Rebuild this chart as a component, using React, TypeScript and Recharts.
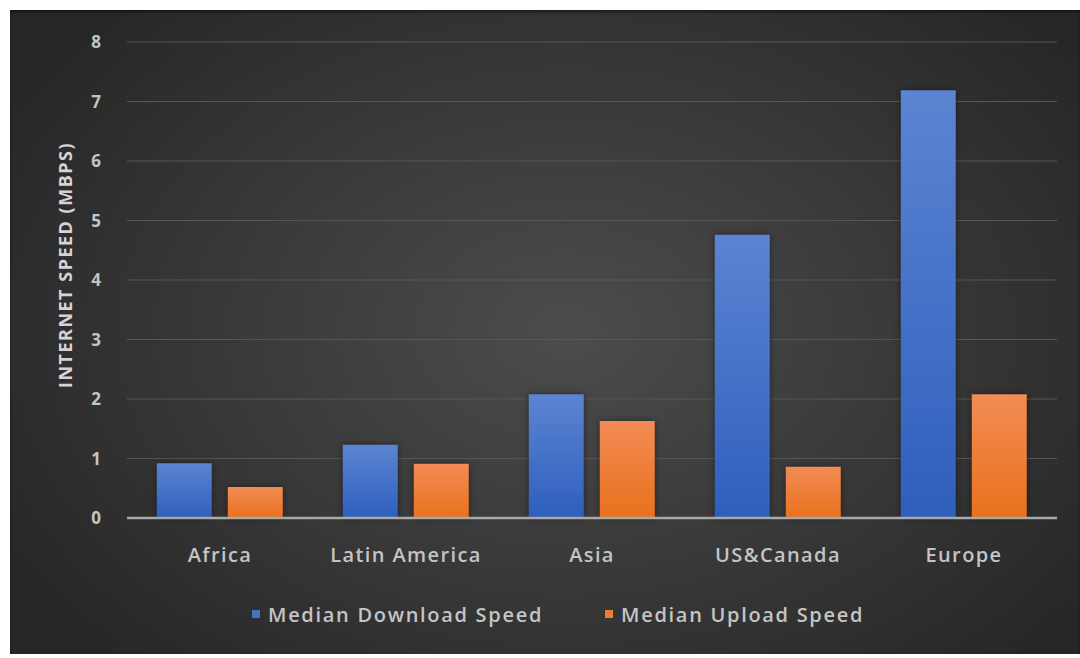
import React from 'react';
import { BarChart, Bar, XAxis, YAxis, CartesianGrid, Legend } from 'recharts';

const regions = ['Africa', 'Latin America', 'Asia', 'US&Canada', 'Europe'];
const downloadSpeed = [0.92, 1.23, 2.08, 4.76, 7.19];
const uploadSpeed = [0.52, 0.91, 1.63, 0.86, 2.08];
const yTicks = [0, 1, 2, 3, 4, 5, 6, 7, 8];

const seriesNames = ['Median Download Speed', 'Median Upload Speed'];
const seriesColors = ['#4472c4', '#ed7d31'];

const data = regions.map((region, i) => ({
  region,
  download: downloadSpeed[i],
  upload: uploadSpeed[i],
}));

const FONT = '"Open Sans", "DejaVu Sans", sans-serif';
const TEXT = '#c4c4c4';

const LegendContent = () => (
  <div
    style={{
      height: 36,
      display: 'flex',
      alignItems: 'center',
      justifyContent: 'flex-start',
      paddingLeft: 252,
      fontFamily: FONT,
      fontSize: 20,
      fontWeight: 600,
      letterSpacing: 1.7,
      color: TEXT,
    }}
  >
    {seriesNames.map((name, i) => (
      <div key={name} style={{ display: 'flex', alignItems: 'center', marginRight: i === 0 ? 62 : 0 }}>
        <span style={{ width: 8, height: 8, background: seriesColors[i], marginRight: 8, display: 'inline-block' }} />
        <span>{name}</span>
      </div>
    ))}
  </div>
);

const AxisTitle = ({ viewBox }: any) => {
  const cx = viewBox.x - 2;
  const cy = viewBox.y + viewBox.height / 2 - 15;
  return (
    <text
      x={cx}
      y={cy}
      transform={`rotate(-90 ${cx} ${cy})`}
      textAnchor="middle"
      dominantBaseline="central"
      fill="#d4d4d4"
      fontSize={18}
      fontFamily={FONT}
      fontWeight={700}
      letterSpacing={1.5}
    >
      INTERNET SPEED (MBPS)
    </text>
  );
};

export default function App() {
  return (
    <div style={{ position: 'fixed', left: 0, top: 0, width: 1080, height: 658, background: '#ffffff' }}>
      <div
        style={{
          position: 'absolute',
          left: 10,
          top: 10,
          width: 1070,
          height: 644,
          background: 'radial-gradient(ellipse 60% 70% at 52% 50%, #4c4c4c 0%, #3a3a3a 50%, #272727 100%)',
          boxShadow: 'inset 0 2px 3px rgba(0,0,0,0.5)',
        }}
      />
      <div style={{ position: 'absolute', left: 0, top: 0 }}>
        <BarChart
          width={1080}
          height={658}
          data={data}
          margin={{ top: 42, right: 23, left: 67, bottom: 54 }}
          barCategoryGap="16%"
          barGap={16}
        >
          <defs>
            <linearGradient id="gradDown" x1="0" y1="0" x2="0" y2="1">
              <stop offset="0%" stopColor="#5b84d2" />
              <stop offset="100%" stopColor="#2f5fbd" />
            </linearGradient>
            <linearGradient id="gradUp" x1="0" y1="0" x2="0" y2="1">
              <stop offset="0%" stopColor="#f28c55" />
              <stop offset="100%" stopColor="#e9711c" />
            </linearGradient>
          </defs>
          <CartesianGrid vertical={false} stroke="#565656" strokeWidth={1.2} />
          <XAxis
            dataKey="region"
            height={50}
            axisLine={{ stroke: '#a8a8a8', strokeWidth: 2.5 }}
            tickLine={false}
            tickSize={0}
            tickMargin={30}
            tick={{ fill: TEXT, fontSize: 20, fontFamily: FONT, fontWeight: 600, letterSpacing: 1.4 }}
          />
          <YAxis
            width={60}
            domain={[0, 8]}
            ticks={yTicks}
            axisLine={false}
            tickLine={false}
            tickSize={0}
            tickMargin={26}
            tick={{ fill: TEXT, fontSize: 17, fontFamily: FONT, fontWeight: 700 }}
            label={{ content: AxisTitle }}
          />
          <Legend verticalAlign="bottom" content={<LegendContent />} wrapperStyle={{ top: 596, left: 0, width: 1080 }} />
          <Bar
            dataKey="download"
            name={seriesNames[0]}
            fill="url(#gradDown)"
            isAnimationActive={false}
            style={{ filter: 'drop-shadow(0 0 3px rgba(0,0,0,0.45))' }}
          />
          <Bar
            dataKey="upload"
            name={seriesNames[1]}
            fill="url(#gradUp)"
            isAnimationActive={false}
            style={{ filter: 'drop-shadow(0 0 3px rgba(0,0,0,0.45))' }}
          />
        </BarChart>
      </div>
    </div>
  );
}
